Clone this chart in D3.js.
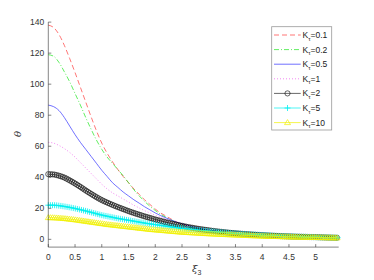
<!DOCTYPE html>
<html><head><meta charset="utf-8">
<script src="https://cdn.jsdelivr.net/npm/d3@7"></script>
<style>body{margin:0;background:#fff}svg{display:block;font-family:"Liberation Sans",Arial,sans-serif}</style>
</head><body>
<script>
const xs = [0,0.1,0.2,0.3,0.4,0.5,0.6,0.7,0.8,0.9,1.0,1.1,1.2,1.3,1.4,1.5,1.6,1.7,1.8,1.9,2.0,2.1,2.2,2.3,2.4,2.5,2.6,2.7,2.8,2.9,3.0,3.5,4.0,4.5,5.0,5.43];
const k01 = [138,136.5,132,125,116.5,107.5,98,88.5,79,70,62,55.5,50,45,40.5,36.5,32.5,29,25.5,22.5,19.5,17,15,13,11.2,9.7,8.5,7.5,6.6,5.9,5.3,3.3,2.3,1.6,1.1,0.8];
const k02 = [119,118,114,108,101.5,94,86.5,78.5,71,64,58,53,49,45,41,36.5,32,28,24.5,21.3,18.6,16.2,14.2,12.4,10.8,9.4,8.3,7.3,6.5,5.8,5.2,3.3,2.3,1.6,1.1,0.8];
const k05 = [86.5,85.5,83,78.5,73,67.5,62.5,58,53.5,49,44.5,40.5,36.5,33.5,30.5,28,25.5,23.3,21,19,17,15.3,13.8,12.4,11.1,10,9,8.1,7.3,6.6,6,3.8,2.6,1.8,1.3,0.9];
const k1  = [62.5,62,60.5,58.5,56,53,49.5,46,42.5,39,35.5,32.5,30,28,26,24,22,20.2,18.5,17,15.5,14.2,13,11.8,10.7,9.7,8.8,8,7.2,6.6,6,3.9,2.7,1.9,1.4,1];
const k2  = [42,41.8,41,39.8,38,36,33.8,31.5,29.3,27.2,25.3,23.7,22.2,20.8,19.5,18.2,17,15.9,14.8,13.8,12.8,11.9,11,10.2,9.4,8.7,8,7.4,6.8,6.3,5.8,3.9,2.7,1.9,1.4,1];
const k5  = [22,22,21.7,21.2,20.6,19.9,19.1,18.3,17.4,16.5,15.6,14.9,14.2,13.5,12.9,12.3,11.7,11.1,10.5,10,9.5,9,8.5,8,7.5,7.1,6.7,6.3,5.9,5.6,5.3,3.8,2.7,1.9,1.4,1];
const k10 = [14,13.9,13.7,13.4,13,12.6,12.1,11.6,11.1,10.6,10.1,9.6,9.2,8.8,8.4,8,7.6,7.2,6.8,6.4,6.1,5.8,5.5,5.2,4.9,4.6,4.4,4.2,4,3.8,3.6,2.8,2.1,1.6,1.2,0.9];
const seriesNames = ["0.1","0.2","0.5","1","2","5","10"];
const xTicks = [0,0.5,1,1.5,2,2.5,3,3.5,4,4.5,5];
const yTicks = [0,20,40,60,80,100,120,140];

const W=374,H=280;
const svg=d3.select("body").append("svg").attr("width",W).attr("height",H);
const x=d3.scaleLinear().domain([0,5.43]).range([48.3,338.7]);
const y=d3.scaleLinear().domain([-5,140]).range([247.1,22.1]);
const axisCol="#333";

const styles=[
 {data:k01,color:"#ff3b3b",dash:"5,3",w:0.7},
 {data:k02,color:"#1ee61e",dash:"5,2,1,2",w:0.7},
 {data:k05,color:"#3333ff",dash:null,w:0.7},
 {data:k1,color:"#ee55ee",dash:"1,2",w:0.7},
 {data:k2,color:"#000",dash:null,w:0.6,marker:"o"},
 {data:k5,color:"#00f0f0",dash:null,w:0.7,marker:"+"},
 {data:k10,color:"#f0f000",dash:null,w:0.7,marker:"^"}
];
const line=d3.line().x((d,i)=>x(xs[i])).y(d=>y(d)).curve(d3.curveMonotoneX);
function drawMarker(g,type,px,py,color){
  if(type==="o") g.append("circle").attr("cx",px).attr("cy",py).attr("r",2.6).attr("fill","none").attr("stroke",color).attr("stroke-width",0.6);
  else if(type==="+") g.append("path").attr("d",`M${px-3},${py}H${px+3}M${px},${py-3}V${py+3}`).attr("stroke",color).attr("stroke-width",0.8);
  else if(type==="^") g.append("path").attr("d",`M${px},${py-3}L${px+3},${py+2}L${px-3},${py+2}Z`).attr("fill","none").attr("stroke",color).attr("stroke-width",0.7);
}
const plot=svg.append("g");
styles.forEach(s=>{
  const p=plot.append("path").datum(s.data).attr("d",line).attr("fill","none")
    .attr("stroke",s.color).attr("stroke-width",s.w);
  if(s.dash) p.attr("stroke-dasharray",s.dash);
  if(s.marker){
    const node=p.node(), L=node.getTotalLength();
    const mg=plot.append("g");
    for(let l=0;l<=L;l+=2.1){const pt=node.getPointAtLength(l);drawMarker(mg,s.marker,pt.x,pt.y,s.color);}
  }
});

// axes
const ax=svg.append("g");
ax.append("line").attr("x1",x(0)).attr("x2",x(5.43)).attr("y1",y(-5)).attr("y2",y(-5)).attr("stroke",axisCol).attr("stroke-width",0.6);
ax.append("line").attr("x1",x(0)).attr("x2",x(0)).attr("y1",y(-5)).attr("y2",y(140)).attr("stroke",axisCol).attr("stroke-width",0.6);
xTicks.forEach(t=>{
  ax.append("line").attr("x1",x(t)).attr("x2",x(t)).attr("y1",y(-5)).attr("y2",y(-5)-3).attr("stroke",axisCol).attr("stroke-width",0.6);
  ax.append("text").attr("x",x(t)).attr("y",y(-5)+12.5).attr("text-anchor","middle").attr("font-size",8.5).attr("fill",axisCol).text(t);
});
yTicks.forEach(t=>{
  ax.append("line").attr("x1",x(0)).attr("x2",x(0)+3).attr("y1",y(t)).attr("y2",y(t)).attr("stroke",axisCol).attr("stroke-width",0.6);
  ax.append("text").attr("x",x(0)-4).attr("y",y(t)+3).attr("text-anchor","end").attr("font-size",8.5).attr("fill",axisCol).text(t);
});
svg.append("text").attr("transform","translate(21,134) rotate(-90)").attr("text-anchor","middle")
  .attr("font-size",10).attr("font-style","italic").attr("fill",axisCol).attr("font-family","DejaVu Serif, serif").text("θ");
const xl=svg.append("text").attr("x",192).attr("y",272).attr("font-size",10).attr("fill",axisCol).attr("font-family","DejaVu Serif, serif");
xl.append("tspan").attr("font-style","italic").text("ξ");
xl.append("tspan").attr("dy",3).attr("font-size",7).attr("font-family","Liberation Sans, Arial").text("3");

// legend
const lg=svg.append("g");
lg.append("rect").attr("x",271.7).attr("y",26.7).attr("width",60).attr("height",103.3).attr("fill","#fff").attr("stroke","#999").attr("stroke-width",0.8);
seriesNames.forEach((n,i)=>{
  const s=styles[i], ly=35+i*14.6;
  const l=lg.append("line").attr("x1",274).attr("x2",300.7).attr("y1",ly).attr("y2",ly).attr("stroke",s.color).attr("stroke-width",s.w);
  if(s.dash) l.attr("stroke-dasharray",s.dash);
  if(s.marker) drawMarker(lg,s.marker,287.5,ly,s.color);
  const t=lg.append("text").attr("x",302.5).attr("y",ly+3).attr("font-size",8.5).attr("fill","#222");
  t.append("tspan").text("K");
  t.append("tspan").attr("dy",2.5).attr("font-size",6).text("τ");
  t.append("tspan").attr("dy",-2.5).text("="+n);
});
</script>
</body></html>
